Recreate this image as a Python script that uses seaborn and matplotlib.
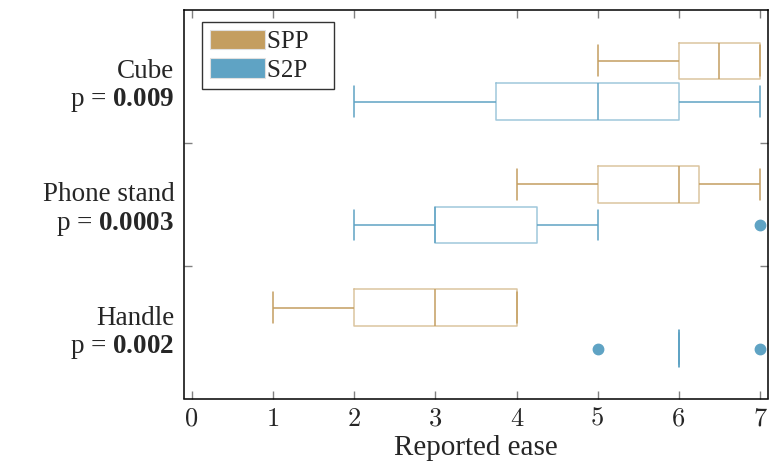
import numpy as np
import pandas as pd
import matplotlib
matplotlib.use("Agg")
import matplotlib.pyplot as plt
import matplotlib.transforms as mtrans
import seaborn as sns
from matplotlib.patches import Patch
from matplotlib.ticker import FixedLocator

# ---- data ----
objects = ["Cube", "Phone stand", "Handle"]
p_values = ["0.009", "0.0003", "0.002"]
methods = ["SPP", "S2P"]
colors = ["#c49e60", "#5fa3c4"]

cube_spp = [5, 6, 6, 6, 7, 7, 7, 7]
cube_s2p = [2, 3, 4, 5, 5, 6, 6, 7]
phone_spp = [4, 5, 5, 6, 6, 6, 7, 7]
phone_s2p = [2, 3, 3, 3, 3, 4, 5, 7]
handle_spp = [1, 2, 2, 3, 3, 4, 4, 4]
handle_s2p = [5, 6, 6, 6, 6, 6, 6, 7]

x_ticks = [0, 1, 2, 3, 4, 5, 6, 7]
x_label = "Reported ease"

series = {
    ("Cube", "SPP"): cube_spp, ("Cube", "S2P"): cube_s2p,
    ("Phone stand", "SPP"): phone_spp, ("Phone stand", "S2P"): phone_s2p,
    ("Handle", "SPP"): handle_spp, ("Handle", "S2P"): handle_s2p,
}
rows = []
for (obj, m), vals in series.items():
    for v in vals:
        rows.append({"object": obj, "method": m, "ease": v})
df = pd.DataFrame(rows)

sns.set_theme(style="white")
serif = "Liberation Serif"
plt.rcParams["font.family"] = [serif, "DejaVu Serif"]
plt.rcParams["mathtext.fontset"] = "custom"
plt.rcParams["mathtext.rm"] = serif
plt.rcParams["mathtext.bf"] = serif + ":bold"
FS = 19.5

fig = plt.figure(figsize=(7.72, 4.65), dpi=100)
ax = fig.add_axes([184 / 772, 1 - 398.5 / 465, (768 - 184) / 772, (398.5 - 10) / 465])

sns.boxplot(data=df, x="ease", y="object", hue="method", order=objects,
            hue_order=methods, palette=colors, fill=False, width=0.66, gap=0.1,
            linewidth=1.1, whis=1.5, capwidths=0.25,
            boxprops=dict(alpha=0.6),
            flierprops=dict(marker="o", markersize=7.5),
            legend=False, ax=ax)

for ln in ax.lines:
    mk = ln.get_marker()
    if mk not in (None, "None", "", " "):
        c = ln.get_markeredgecolor()
        ln.set_markerfacecolor(c)
        ln.set_markeredgecolor(c)
        ln.set_alpha(1)

ax.set_xlim(-0.0986, 7.0986)
ax.set_ylim(2.57, -0.577)

ax.set_xticks(x_ticks)
ax.set_xticklabels([str(t) for t in x_ticks], fontsize=19, family="cmr10")
ax.set_yticks([0, 1, 2])
ax.set_yticklabels([f"{o}\np = $\\mathbf{{{p}}}$" for o, p in zip(objects, p_values)],
                   fontsize=FS, linespacing=1.12)
shift = mtrans.ScaledTranslation(0, 2 / 100, fig.dpi_scale_trans)
for lab in ax.get_yticklabels():
    lab.set_transform(lab.get_transform() + shift)
ax.yaxis.set_minor_locator(FixedLocator([0.5, 1.5]))
ax.tick_params(axis="y", which="major", length=0, pad=7)
ax.tick_params(axis="y", which="minor", length=6, direction="in", left=True,
               right=True, color="#808080", width=1)
ax.tick_params(axis="x", which="major", length=6, direction="in", bottom=True,
               top=True, color="#808080", width=1, pad=6)
ax.set_xlabel(x_label, fontsize=21, labelpad=3)
ax.set_ylabel("")

for s in ax.spines.values():
    s.set_visible(True)
    s.set_color("black")
    s.set_linewidth(1.1)

handles = [Patch(facecolor=c, edgecolor="#e0e0e0", linewidth=0.8) for c in colors]
leg = ax.legend(handles, [m + "   " for m in methods], loc="upper left",
                bbox_to_anchor=(0.031, 0.969),
                borderaxespad=0, fontsize=18, frameon=True, fancybox=False,
                handlelength=2.2, handleheight=0.85, labelspacing=0.2,
                handletextpad=0.1, borderpad=0.3)
leg.get_frame().set_edgecolor("black")
leg.get_frame().set_linewidth(1.0)

fig.savefig("out.png", dpi=100)
